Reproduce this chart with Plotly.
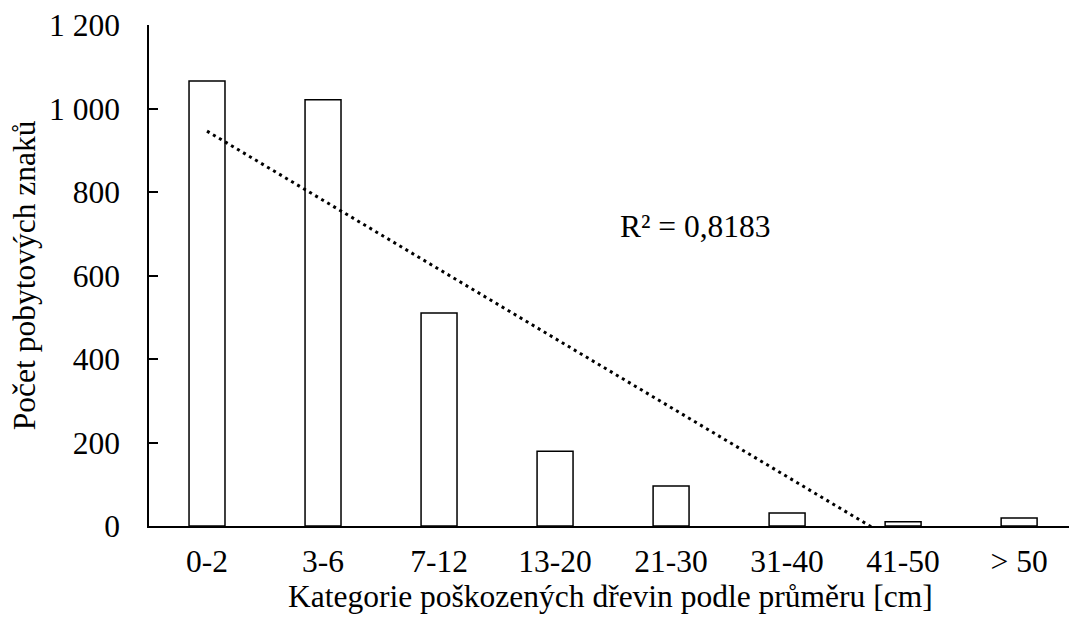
import numpy as np
import plotly.graph_objects as go

categories = ["0-2", "3-6", "7-12", "13-20", "21-30", "31-40", "41-50", "> 50"]
counts = [1066, 1021, 510, 179, 96, 31, 10, 19]
y_tickvals = [0, 200, 400, 600, 800, 1000, 1200]
y_ticktext = ["0", "200", "400", "600", "800", "1 000", "1 200"]
r2_label = "R² = 0,8183"
x_title = "Kategorie poškozených dřevin podle průměru [cm]"
y_title = "Počet pobytových znaků"

FONT = "Times New Roman"
FS = 31.5

idx = np.arange(len(categories))
# linear trendline (Excel-like, x = 1..n)
slope, intercept = np.polyfit(idx + 1, counts, 1)
trend_x = [idx[0], idx[-1]]
trend_y = [slope * (i + 1) + intercept for i in trend_x]

fig = go.Figure()
fig.add_trace(go.Bar(
    x=idx, y=counts, width=0.31,
    marker=dict(color="white", line=dict(color="black", width=1.5)),
    showlegend=False,
))
fig.add_trace(go.Scatter(
    x=trend_x, y=trend_y, mode="lines",
    line=dict(color="black", width=3, dash="3px,4px"),
    showlegend=False,
))

def tf():
    return dict(family=FONT, size=FS, color="black")

fig.update_layout(
    width=1069, height=625,
    margin=dict(l=149, r=0, t=25, b=99),
    paper_bgcolor="white", plot_bgcolor="white",
    xaxis=dict(
        range=[-0.5, 7.43],
        tickvals=list(idx), ticktext=categories,
        tickfont=tf(),
        showline=True, linecolor="black", linewidth=1.5,
        ticks="", showgrid=False, zeroline=False,
        ticklabelstandoff=6,
    ),
    yaxis=dict(
        range=[0, 1200],
        tickvals=y_tickvals, ticktext=y_ticktext,
        tickfont=tf(),
        showline=True, linecolor="black", linewidth=1.5,
        ticks="inside", ticklen=9, tickwidth=1.5, tickcolor="black",
        showgrid=False, zeroline=False,
        ticklabelstandoff=21,
    ),
    annotations=[
        dict(text=r2_label, xref="paper", yref="paper",
             x=(695 - 149) / 920, y=(526 - 226) / 501.3,
             xanchor="center", yanchor="middle", showarrow=False,
             font=tf()),
        dict(text=x_title, xref="paper", yref="paper",
             x=(610 - 149) / 920, y=(526 - 597) / 501.3,
             xanchor="center", yanchor="middle", showarrow=False,
             font=tf()),
        dict(text=y_title, xref="paper", yref="paper",
             x=(24 - 149) / 920, y=(526 - 275) / 501.3,
             xanchor="center", yanchor="middle", showarrow=False,
             textangle=-90, font=tf()),
    ],
)

fig.write_html("out.html")
